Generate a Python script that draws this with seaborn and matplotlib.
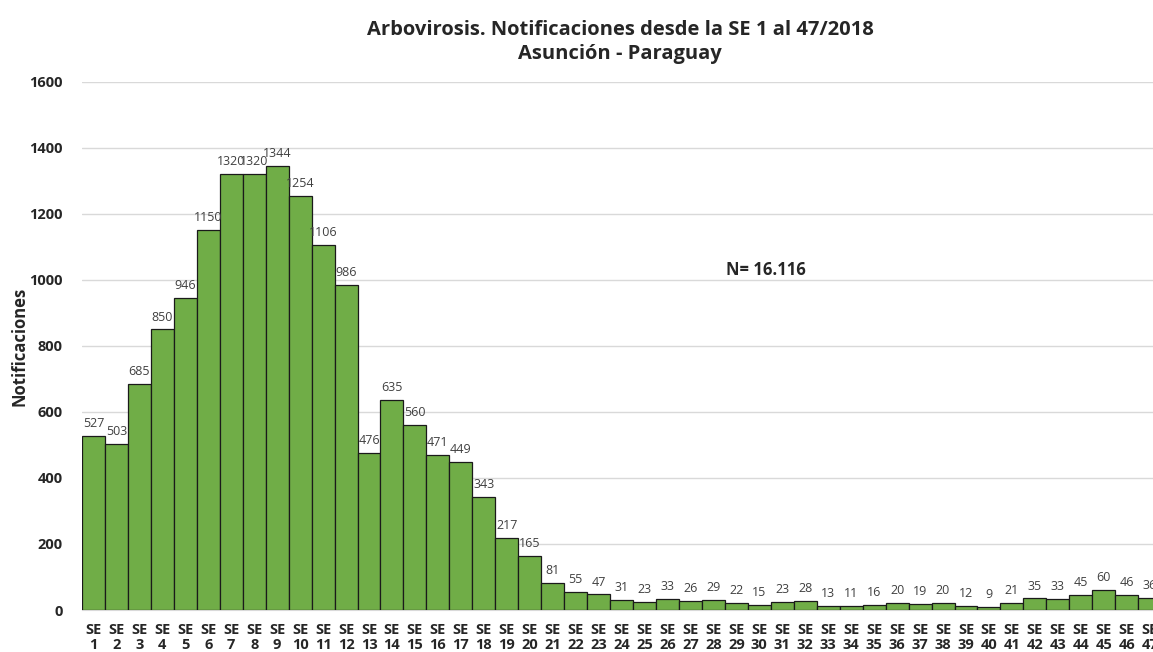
import numpy as np
import pandas as pd
import matplotlib
matplotlib.use("Agg")
import matplotlib.pyplot as plt
import seaborn as sns

# datos: notificaciones por semana epidemiologica
semanas = [f"SE\n{i}" for i in range(1, 48)]
valores = [527, 503, 685, 850, 946, 1150, 1320, 1320, 1344, 1254,
           1106, 986, 476, 635, 560, 471, 449, 343, 217, 165,
           81, 55, 47, 31, 23, 33, 26, 29, 22, 15,
           23, 28, 13, 11, 16, 20, 19, 20, 12, 9,
           21, 35, 33, 45, 60, 46, 36]

df = pd.DataFrame({"semana": semanas, "casos": valores})

sns.set_style("white")
plt.rcParams["font.family"] = ["Open Sans", "DejaVu Sans"]

fig = plt.figure(figsize=(11.53, 6.52), dpi=100)
ax = fig.add_axes([0.0711, 0.0644, 0.936, 0.81])

sns.barplot(data=df, x="semana", y="casos", color="#70AD47", width=1.0,
            edgecolor="#1a1a1a", linewidth=0.9, saturation=1, ax=ax, zorder=3)

# etiquetas de valores
for i, v in enumerate(valores):
    ax.text(i, v + 18, str(v), ha="center", va="bottom", fontsize=9, color="#404040")

ax.set_ylim(0, 1600)
ax.set_xlim(-0.5, 46.5)
ax.set_yticks(range(0, 1601, 200))
ax.yaxis.grid(True, color="#d9d9d9", linewidth=1, zorder=0)
ax.tick_params(axis="y", labelsize=10.5, length=0, pad=14)
ax.tick_params(axis="x", labelsize=10.5, length=0, pad=9)
for lab in ax.get_yticklabels() + ax.get_xticklabels():
    lab.set_fontweight("bold")
for lab in ax.get_xticklabels():
    lab.set_linespacing(1.15)

for s in ["top", "right", "left"]:
    ax.spines[s].set_visible(False)
ax.spines["bottom"].set_color("#d9d9d9")

ax.set_xlabel("")
ax.set_ylabel("Notificaciones", fontsize=12, fontweight="bold")
ax.yaxis.set_label_coords(-0.05, 0.5)

ax.text(29.3, 1030, "N= 16.116", ha="center", va="center", fontsize=12, fontweight="bold")

fig.text(0.538, 0.97, "Arbovirosis. Notificaciones desde la SE 1 al 47/2018\nAsunción - Paraguay",
         ha="center", va="top", fontsize=14.5, fontweight="bold", linespacing=1.3)

fig.savefig("out.png", dpi=100)
